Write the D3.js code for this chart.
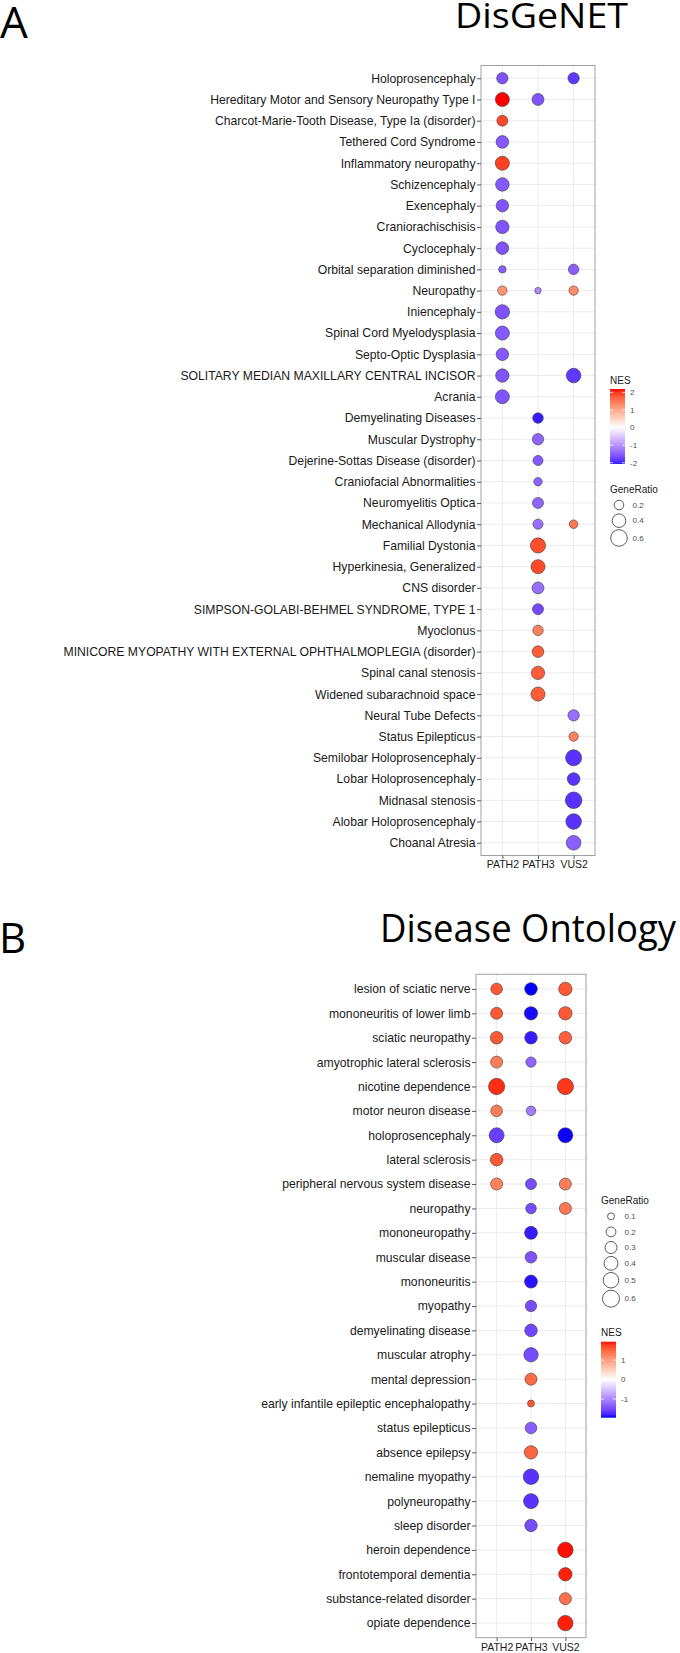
<!DOCTYPE html>
<html><head><meta charset="utf-8">
<script src="https://cdn.jsdelivr.net/npm/d3@7"></script>
<style>body{margin:0;background:#fff} svg{display:block}</style>
</head><body>
<svg id="c" width="680" height="1653"></svg>
<script>
// ---------- Panel A : DisGeNET ----------
const columns = ["PATH2", "PATH3", "VUS2"];

const rowsA = ["Holoprosencephaly","Hereditary Motor and Sensory Neuropathy Type I","Charcot-Marie-Tooth Disease, Type Ia (disorder)","Tethered Cord Syndrome","Inflammatory neuropathy","Schizencephaly","Exencephaly","Craniorachischisis","Cyclocephaly","Orbital separation diminished","Neuropathy","Iniencephaly","Spinal Cord Myelodysplasia","Septo-Optic Dysplasia","SOLITARY MEDIAN MAXILLARY CENTRAL INCISOR","Acrania","Demyelinating Diseases","Muscular Dystrophy","Dejerine-Sottas Disease (disorder)","Craniofacial Abnormalities","Neuromyelitis Optica","Mechanical Allodynia","Familial Dystonia","Hyperkinesia, Generalized","CNS disorder","SIMPSON-GOLABI-BEHMEL SYNDROME, TYPE 1","Myoclonus","MINICORE MYOPATHY WITH EXTERNAL OPHTHALMOPLEGIA (disorder)","Spinal canal stenosis","Widened subarachnoid space","Neural Tube Defects","Status Epilepticus","Semilobar Holoprosencephaly","Lobar Holoprosencephaly","Midnasal stenosis","Alobar Holoprosencephaly","Choanal Atresia"];

const nesA_PATH2 = [-1.6,2.19,1.9,-1.55,1.95,-1.55,-1.6,-1.6,-1.6,-1.5,1.2,-1.6,-1.55,-1.55,-1.6,-1.6,null,null,null,null,null,null,null,null,null,null,null,null,null,null,null,null,null,null,null,null,null];
const grA_PATH2  = [0.28,0.43,0.26,0.35,0.43,0.40,0.34,0.39,0.35,0.12,0.19,0.45,0.43,0.34,0.39,0.43,null,null,null,null,null,null,null,null,null,null,null,null,null,null,null,null,null,null,null,null,null];
const nesA_PATH3 = [null,-1.6,null,null,null,null,null,null,null,null,-1.1,null,null,null,null,null,-2.07,-1.45,-1.55,-1.45,-1.45,-1.35,1.85,1.9,-1.35,-1.7,1.4,1.75,1.75,1.75,null,null,null,null,null,null,null];
const grA_PATH3  = [null,0.31,null,null,null,null,null,null,null,null,0.09,null,null,null,null,null,0.245,0.28,0.22,0.154,0.264,0.22,0.50,0.43,0.31,0.264,0.236,0.294,0.39,0.43,null,null,null,null,null,null,null];
const nesA_VUS2  = [-1.85,null,null,null,null,null,null,null,null,-1.5,1.3,null,null,null,-1.85,null,null,null,null,null,null,1.5,null,null,null,null,null,null,null,null,-1.35,1.4,-1.9,-1.9,-1.9,-1.9,-1.5];
const grA_VUS2   = [0.28,null,null,null,null,null,null,null,null,0.24,0.19,null,null,null,0.465,null,null,null,null,null,null,0.16,null,null,null,null,null,null,null,null,0.28,0.19,0.56,0.35,0.60,0.53,0.465];
const nesRangeA = [-2.07, 2.19];
const nesTicksA = [2, 1, 0, -1, -2];
const grBreaksA = [0.2, 0.4, 0.6];

// ---------- Panel B : Disease Ontology ----------
const rowsB = ["lesion of sciatic nerve","mononeuritis of lower limb","sciatic neuropathy","amyotrophic lateral sclerosis","nicotine dependence","motor neuron disease","holoprosencephaly","lateral sclerosis","peripheral nervous system disease","neuropathy","mononeuropathy","muscular disease","mononeuritis","myopathy","demyelinating disease","muscular atrophy","mental depression","early infantile epileptic encephalopathy","status epilepticus","absence epilepsy","nemaline myopathy","polyneuropathy","sleep disorder","heroin dependence","frontotemporal dementia","substance-related disorder","opiate dependence"];

const nesB_PATH2 = [1.6,1.6,1.6,1.3,1.85,1.3,-1.6,1.6,1.25,null,null,null,null,null,null,null,null,null,null,null,null,null,null,null,null,null,null];
const grB_PATH2  = [0.28,0.30,0.33,0.30,0.55,0.28,0.465,0.33,0.30,null,null,null,null,null,null,null,null,null,null,null,null,null,null,null,null,null,null];
const nesB_PATH3 = [-1.96,-1.93,-1.85,-1.3,null,-1.1,null,null,-1.5,-1.5,-1.85,-1.45,-1.9,-1.5,-1.55,-1.5,1.45,1.6,-1.35,1.5,-1.7,-1.7,-1.5,null,null,null,null];
const grB_PATH3  = [0.33,0.37,0.33,0.22,null,0.19,null,null,0.25,0.23,0.35,0.28,0.35,0.27,0.33,0.43,0.30,0.10,0.28,0.37,0.50,0.465,0.32,null,null,null,null];
const nesB_VUS2  = [1.6,1.6,1.55,null,1.8,null,-1.95,null,1.3,1.35,null,null,null,null,null,null,null,null,null,null,null,null,null,1.94,1.9,1.4,1.9];
const grB_VUS2   = [0.37,0.37,0.33,null,0.55,null,0.465,null,0.30,0.30,null,null,null,null,null,null,null,null,null,null,null,null,null,0.50,0.37,0.30,0.49];
const nesRangeB = [-1.96, 1.94];
const nesTicksB = [1, 0, -1];
const grBreaksB = [0.1, 0.2, 0.3, 0.4, 0.5, 0.6];

// ---------- drawing ----------
const svg = d3.select("#c");
svg.append("rect").attr("width", 680).attr("height", 1653).attr("fill", "#fff");
const AX_FONT = "'Liberation Sans', Arial, Helvetica, sans-serif";
const TITLE_FONT = "'Open Sans', 'Noto Sans', sans-serif";

function drawPanel(cfg) {
  const g = svg.append("g");
  const x = d3.scalePoint().domain(columns).range([cfg.x0, cfg.x1]).padding(0.6);
  const y = d3.scalePoint().domain(cfg.rows).range([cfg.y0, cfg.y1]).padding(0.6);
  const M = Math.max(Math.abs(cfg.nesRange[0]), Math.abs(cfg.nesRange[1]));
  const color = d3.scaleLinear().domain([-M, 0, M]).range(["blue", "white", "red"]).interpolate(d3.interpolateLab);
  const r = d3.scaleSqrt().domain([0, 0.6]).range([0, cfg.rMax]);

  // grid
  g.append("g").selectAll("line").data(cfg.rows).join("line")
    .attr("x1", cfg.x0).attr("x2", cfg.x1).attr("y1", d => y(d)).attr("y2", d => y(d))
    .attr("stroke", "#ebebeb").attr("stroke-width", 1);
  g.append("g").selectAll("line").data(columns).join("line")
    .attr("y1", cfg.y0).attr("y2", cfg.y1).attr("x1", d => x(d)).attr("x2", d => x(d))
    .attr("stroke", "#ebebeb").attr("stroke-width", 1);

  // points
  const pts = [];
  columns.forEach((c, ci) => {
    const nes = cfg.nes[ci], gr = cfg.gr[ci];
    cfg.rows.forEach((row, i) => {
      if (nes[i] != null) pts.push({ col: c, row, nes: nes[i], gr: gr[i] });
    });
  });
  g.append("g").selectAll("circle").data(pts).join("circle")
    .attr("cx", d => x(d.col)).attr("cy", d => y(d.row)).attr("r", d => r(d.gr))
    .attr("fill", d => color(d.nes)).attr("stroke", "#3a3a3a").attr("stroke-width", 0.6);

  // border
  g.append("rect").attr("x", cfg.x0).attr("y", cfg.y0)
    .attr("width", cfg.x1 - cfg.x0).attr("height", cfg.y1 - cfg.y0)
    .attr("fill", "none").attr("stroke", "#a0a0a0").attr("stroke-width", 1);

  // axes
  const ya = g.append("g").attr("transform", `translate(${cfg.x0},0)`)
    .call(d3.axisLeft(y).tickSize(4).tickPadding(1.5));
  ya.select(".domain").remove();
  ya.selectAll(".tick line").attr("stroke", "#555");
  ya.selectAll("text").attr("font-family", AX_FONT).attr("font-size", 12.2).attr("fill", "#1a1a1a");

  const xa = g.append("g").attr("transform", `translate(0,${cfg.y1})`)
    .call(d3.axisBottom(x).tickSize(3.5).tickPadding(2));
  xa.select(".domain").remove();
  xa.selectAll(".tick line").attr("stroke", "#555");
  xa.selectAll("text").attr("font-family", AX_FONT).attr("font-size", 10.5).attr("fill", "#1a1a1a");

  // legends
  const drawNES = (lx, ly) => {
    g.append("text").attr("x", lx).attr("y", ly).text("NES")
      .attr("font-family", AX_FONT).attr("font-size", 10).attr("fill", "#1a1a1a");
    const by0 = ly + cfg.barOffset, by1 = by0 + cfg.barH;
    const cy = d3.scaleLinear().domain([cfg.nesRange[1], cfg.nesRange[0]]).range([by0, by1]);
    const gid = "grad" + cfg.id;
    const grad = svg.append("defs").append("linearGradient").attr("id", gid)
      .attr("x1", 0).attr("y1", 0).attr("x2", 0).attr("y2", 1);
    d3.range(0, 1.0001, 0.05).forEach(t => {
      const v = cfg.nesRange[1] + (cfg.nesRange[0] - cfg.nesRange[1]) * t;
      grad.append("stop").attr("offset", t).attr("stop-color", color(v));
    });
    g.append("rect").attr("x", lx).attr("y", by0).attr("width", 15).attr("height", cfg.barH)
      .attr("fill", `url(#${gid})`);
    cfg.nesTicks.forEach(t => {
      g.append("line").attr("x1", lx).attr("x2", lx + 3).attr("y1", cy(t)).attr("y2", cy(t)).attr("stroke", "#fff").attr("stroke-width", 0.8);
      g.append("line").attr("x1", lx + 12).attr("x2", lx + 15).attr("y1", cy(t)).attr("y2", cy(t)).attr("stroke", "#fff").attr("stroke-width", 0.8);
      g.append("text").attr("x", lx + 20).attr("y", cy(t)).attr("dy", "0.35em").text(t)
        .attr("font-family", AX_FONT).attr("font-size", 8).attr("fill", "#4d4d4d");
    });
  };
  const drawGR = (lx, ly) => {
    g.append("text").attr("x", lx).attr("y", ly).text("GeneRatio")
      .attr("font-family", AX_FONT).attr("font-size", 10).attr("fill", "#1a1a1a");
    let yy = ly + cfg.grOffset;
    let prevH = null;
    cfg.grBreaks.forEach(b => {
      const h = Math.max(15.6, 2 * r(b) + 2.2);
      if (prevH != null) yy += (prevH + h) / 2;
      prevH = h;
      g.append("circle").attr("cx", lx + cfg.keyDx).attr("cy", yy).attr("r", r(b))
        .attr("fill", "#fff").attr("stroke", "#333").attr("stroke-width", 0.8);
      g.append("text").attr("x", lx + cfg.keyDx + 13.5).attr("y", yy).attr("dy", "0.35em").text(b)
        .attr("font-family", AX_FONT).attr("font-size", 8).attr("fill", "#4d4d4d");
    });
  };
  cfg.legends.forEach(l => l.type === "nes" ? drawNES(l.x, l.y) : drawGR(l.x, l.y));
}

drawPanel({
  id: "A", rows: rowsA, x0: 481, x1: 595, y0: 65.5, y1: 855.5,
  nes: [nesA_PATH2, nesA_PATH3, nesA_VUS2], gr: [grA_PATH2, grA_PATH3, grA_VUS2],
  nesRange: nesRangeA, nesTicks: nesTicksA, grBreaks: grBreaksA, rMax: 8.3,
  barOffset: 5, barH: 75, grOffset: 12.5, keyDx: 9,
  legends: [{ type: "nes", x: 610, y: 384 }, { type: "gr", x: 610, y: 492.5 }]
});
drawPanel({
  id: "B", rows: rowsB, x0: 476, x1: 586, y0: 974.3, y1: 1637.7,
  nes: [nesB_PATH2, nesB_PATH3, nesB_VUS2], gr: [grB_PATH2, grB_PATH3, grB_VUS2],
  nesRange: nesRangeB, nesTicks: nesTicksB, grBreaks: grBreaksB, rMax: 8.5,
  barOffset: 5.7, barH: 76, grOffset: 12.8, keyDx: 10,
  legends: [{ type: "gr", x: 601, y: 1203.5 }, { type: "nes", x: 601, y: 1336 }]
});

// panel letters and titles
svg.append("text").attr("x", 0).attr("y", 38.3).text("A")
  .attr("font-family", TITLE_FONT).attr("font-size", 44).attr("fill", "#000");
svg.append("text").attr("x", -1).attr("y", 953).text("B")
  .attr("font-family", TITLE_FONT).attr("font-size", 42).attr("fill", "#000");
svg.append("text").attr("x", 455).attr("y", 28.3).text("DisGeNET")
  .attr("font-family", TITLE_FONT).attr("font-size", 35).attr("fill", "#000")
  .attr("textLength", 173).attr("lengthAdjust", "spacingAndGlyphs");
svg.append("text").attr("x", 380).attr("y", 941.7).text("Disease Ontology")
  .attr("font-family", TITLE_FONT).attr("font-size", 38.5).attr("fill", "#000")
  .attr("textLength", 296).attr("lengthAdjust", "spacingAndGlyphs");
</script>
</body></html>
